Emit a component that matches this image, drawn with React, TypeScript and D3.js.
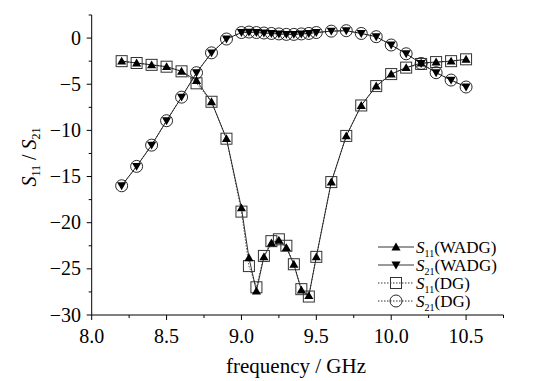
import React from "react";
import * as d3 from "d3";

const freq = [8.2, 8.3, 8.4, 8.5, 8.6, 8.7, 8.8, 8.9, 9.0, 9.05, 9.1, 9.15, 9.2, 9.25, 9.3, 9.35, 9.4, 9.45, 9.5, 9.6, 9.7, 9.8, 9.9, 10.0, 10.1, 10.2, 10.3, 10.4, 10.5];

const s11WADG = [-2.5, -2.7, -2.9, -3.1, -3.6, -4.6, -6.9, -10.9, -18.4, -23.8, -27.4, -23.7, -22.2, -21.9, -22.7, -24.5, -27.3, -27.9, -23.7, -15.6, -10.6, -7.3, -5.2, -3.9, -3.2, -2.7, -2.6, -2.5, -2.3];
const s21WADG = [-16.0, -13.9, -11.6, -8.95, -6.4, -3.75, -1.6, -0.1, 0.6, 0.65, 0.6, 0.55, 0.5, 0.45, 0.4, 0.4, 0.45, 0.5, 0.6, 0.75, 0.8, 0.5, 0.15, -0.75, -1.7, -2.75, -3.75, -4.55, -5.3];
const s11DG = [-2.5, -2.7, -2.9, -3.1, -3.6, -4.9, -6.9, -10.9, -18.8, -24.7, -27.0, -23.6, -22.0, -21.8, -22.5, -24.5, -27.2, -28.0, -23.7, -15.6, -10.6, -7.3, -5.2, -3.9, -3.2, -2.8, -2.6, -2.5, -2.3];
const s21DG = [-16.0, -13.9, -11.6, -8.95, -6.4, -3.75, -1.6, -0.1, 0.6, 0.65, 0.6, 0.55, 0.5, 0.45, 0.4, 0.4, 0.45, 0.5, 0.6, 0.75, 0.8, 0.5, 0.15, -0.75, -1.7, -2.75, -3.75, -4.55, -5.3];

const xTicks = [8.0, 8.5, 9.0, 9.5, 10.0, 10.5];
const yTicks = [0, -5, -10, -15, -20, -25, -30];

const FONT = "Liberation Serif";

export default function App() {
  const x = d3.scaleLinear().domain([8, 10.75]).range([91.7, 503.5]);
  const y = d3.scaleLinear().domain([-30, 2.5]).range([315, 15]);
  const line = (vals: number[]) =>
    d3.line<number>().x((_, i) => x(freq[i])).y((v) => y(v))(vals) || "";
  const tri = d3.symbol().type(d3.symbolTriangle).size(36)() || "";

  const xMinor = d3.range(8, 10.76, 0.25);
  const yMinor = d3.range(-30, 2.51, 2.5);

  const legend = [
    { sub: "11", type: "triUp", dash: "", lbl: "(WADG)" },
    { sub: "21", type: "triDown", dash: "", lbl: "(WADG)" },
    { sub: "11", type: "square", dash: "1.5,1.5", lbl: "(DG)" },
    { sub: "21", type: "circle", dash: "1.5,1.5", lbl: "(DG)" },
  ];

  const marker = (type: string, cx: number, cy: number, key: string) => {
    if (type === "triUp")
      return <path key={key} d={tri} transform={`translate(${cx},${cy + 0.8})`} fill="#000" />;
    if (type === "triDown")
      return <path key={key} d={tri} transform={`translate(${cx},${cy - 0.8}) rotate(180)`} fill="#000" />;
    if (type === "square")
      return <rect key={key} x={cx - 5.5} y={cy - 5.5} width={11} height={11} fill="none" stroke="#333" strokeWidth={1} />;
    return <circle key={key} cx={cx} cy={cy} r={6} fill="none" stroke="#111" strokeWidth={0.9} />;
  };

  return (
    <svg width={544} height={381} style={{ position: "absolute", left: 0, top: 0, background: "#fff", fontFamily: FONT }}>
      <rect width={544} height={381} fill="#fff" />
      <line x1={91.7} x2={91.7} y1={15} y2={315} stroke="#000" strokeWidth={1} />
      <line x1={91.7} x2={503.5} y1={315} y2={315} stroke="#000" strokeWidth={1} />
      {xMinor.map((t, i) => {
        const major = Math.abs(t * 2 - Math.round(t * 2)) < 1e-6;
        return <line key={"xm" + i} x1={x(t)} x2={x(t)} y1={315} y2={315 + (major ? 5 : 3)} stroke="#000" strokeWidth={1} />;
      })}
      {yMinor.map((t, i) => {
        const major = Math.abs(t / 5 - Math.round(t / 5)) < 1e-6;
        return <line key={"ym" + i} x1={91.7} x2={91.7 - (major ? 5 : 3)} y1={y(t)} y2={y(t)} stroke="#000" strokeWidth={1} />;
      })}
      {xTicks.map((t) => (
        <text key={"xt" + t} x={x(t)} y={343} textAnchor="middle" fontFamily={FONT} fontSize={20} fill="#000">
          {t.toFixed(1)}
        </text>
      ))}
      {yTicks.map((t) => (
        <text key={"yt" + t} x={81} y={y(t) + 6.5} textAnchor="end" fontFamily={FONT} fontSize={20} fill="#000">
          {t < 0 ? "\u2212" + Math.abs(t) : String(t)}
        </text>
      ))}
      <text x={296} y={373} textAnchor="middle" fontFamily={FONT} fontSize={21} fill="#000">
        frequency / GHz
      </text>
      <text transform="translate(36,157) rotate(-90)" textAnchor="middle" fontFamily={FONT} fontSize={20} fill="#000">
        <tspan fontStyle="italic">S</tspan>
        <tspan fontSize={12} dy={4}>11</tspan>
        <tspan dy={-4}> / </tspan>
        <tspan fontStyle="italic">S</tspan>
        <tspan fontSize={12} dy={4}>21</tspan>
      </text>

      <path d={line(s11DG)} fill="none" stroke="#333" strokeWidth={0.8} strokeDasharray="1.5,1.5" />
      <path d={line(s21DG)} fill="none" stroke="#333" strokeWidth={0.8} strokeDasharray="1.5,1.5" />
      <path d={line(s11WADG)} fill="none" stroke="#000" strokeWidth={0.8} />
      <path d={line(s21WADG)} fill="none" stroke="#000" strokeWidth={0.8} />
      {s11DG.map((v, i) => marker("square", x(freq[i]), y(v), "sq" + i))}
      {s21DG.map((v, i) => marker("circle", x(freq[i]), y(v), "ci" + i))}
      {s11WADG.map((v, i) => marker("triUp", x(freq[i]), y(v), "tu" + i))}
      {s21WADG.map((v, i) => marker("triDown", x(freq[i]), y(v), "td" + i))}

      {legend.map((l, i) => {
        const ly = 247 + 18 * i;
        return (
          <g key={"lg" + i}>
            <line x1={378} x2={414} y1={ly} y2={ly} stroke="#000" strokeWidth={0.8} strokeDasharray={l.dash} />
            {marker(l.type, 396, ly, "lm" + i)}
            <text x={416} y={ly + 5.5} fontFamily={FONT} fontSize={17} fill="#000">
              <tspan fontStyle="italic">S</tspan>
              <tspan fontSize={10} dy={4}>{l.sub}</tspan>
              <tspan dy={-4}>{l.lbl}</tspan>
            </text>
          </g>
        );
      })}
    </svg>
  );
}
